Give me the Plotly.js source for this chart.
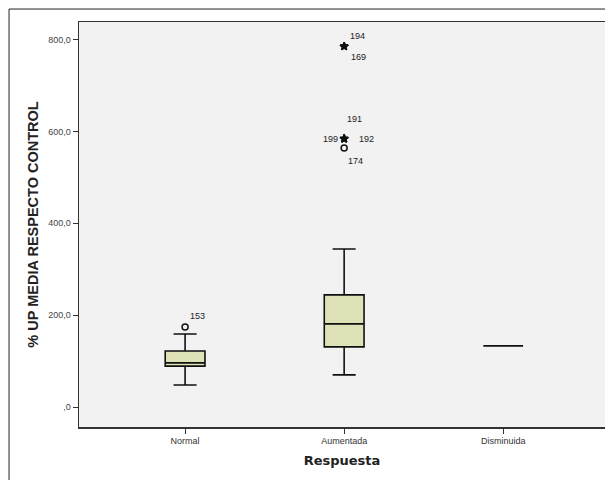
<!DOCTYPE html>
<html>
<head>
<meta charset="utf-8">
<script src="https://cdn.plot.ly/plotly-3.0.1.min.js"></script>
<style>body{margin:0;background:#fff;}#chart{width:605px;height:480px;}</style>
</head>
<body>
<div id="chart"></div>
<script>
// Categories
const categories = ["Normal", "Aumentada", "Disminuida"];
// Box statistics
const q1 = [89, 131, 133];
const medians = [96, 181, 133];
const q3 = [122, 244, 133];
const lowerFence = [48, 70, 133];
const upperFence = [159, 344, 133];
// Outliers
const outCategory = ["Normal", "Aumentada", "Aumentada", "Aumentada", "Aumentada", "Aumentada", "Aumentada"];
const outValue = [174, 785, 785, 584, 584, 584, 564];
const outLabel = ["153", "194", "169", "191", "199", "192", "174"];
const outSymbol = ["circle-open", "star", "star", "star", "star", "star", "circle-open"];
// Y tick labels
const yTickVals = [0, 200, 400, 600, 800];
const yTickText = [",0", "200,0", "400,0", "600,0", "800,0"];

// label offsets in pixels (style only)
const labelShift = [[12, 11], [13, 10], [14, -11], [10, 20], [-14, 0], [22, 0], [11, -13]];

const boxTrace = {
  type: "box",
  x: categories,
  q1: q1, median: medians, q3: q3,
  lowerfence: lowerFence, upperfence: upperFence,
  boxpoints: false,
  fillcolor: "rgb(223,225,183)",
  line: {color: "#111", width: 1.6},
  width: 0.25,
  whiskerwidth: 0.58,
  hoverinfo: "skip",
  showlegend: false
};

const outTrace = {
  type: "scatter",
  mode: "markers",
  x: outCategory,
  y: outValue,
  marker: {symbol: outSymbol, size: 6, color: "#111", line: {color: "#111", width: 1.5}},
  cliponaxis: false,
  showlegend: false,
  hoverinfo: "skip"
};

const annotations = outLabel.map((t, i) => ({
  x: outCategory[i], y: outValue[i], xref: "x", yref: "y",
  text: t, showarrow: false,
  xshift: labelShift[i][0], yshift: labelShift[i][1],
  font: {family: "Liberation Sans, Arial, sans-serif", size: 9, color: "#222"}
}));

const layout = {
  width: 605, height: 480,
  margin: {l: 79, r: 0, t: 22, b: 53},
  paper_bgcolor: "#ffffff",
  plot_bgcolor: "#f2f2f2",
  font: {family: "Liberation Sans, Arial, sans-serif", color: "#222"},
  xaxis: {
    type: "category",
    range: [-0.667, 2.64],
    showgrid: false, zeroline: false,
    showline: true, linecolor: "#333", linewidth: 1.5, mirror: true,
    ticks: "outside", ticklen: 5, tickcolor: "#333",
    tickfont: {size: 9, color: "#333"},
    title: {text: "Respuesta", font: {size: 13, color: "#222", family: "DejaVu Sans, sans-serif", weight: "bold"}, standoff: 10}
  },
  yaxis: {
    range: [-43.5, 838],
    tickvals: yTickVals, ticktext: yTickText,
    showgrid: false, zeroline: false,
    showline: true, linecolor: "#333", linewidth: 1.5,
    ticks: "outside", ticklen: 5, tickcolor: "#333",
    tickfont: {size: 9, color: "#444"},
    title: {text: "% UP MEDIA RESPECTO CONTROL", font: {size: 14.5, color: "#222", family: "Liberation Sans, Arial, sans-serif", weight: "bold"}, standoff: 6}
  },
  annotations: annotations,
  shapes: [{
    type: "rect", xref: "paper", yref: "paper",
    x0: -0.133, x1: 1.02, y0: -0.14, y1: 1.032,
    line: {color: "#222", width: 1}, layer: "below"
  }]
};

Plotly.newPlot("chart", [boxTrace, outTrace], layout, {staticPlot: true, displayModeBar: false});
</script>
</body>
</html>
